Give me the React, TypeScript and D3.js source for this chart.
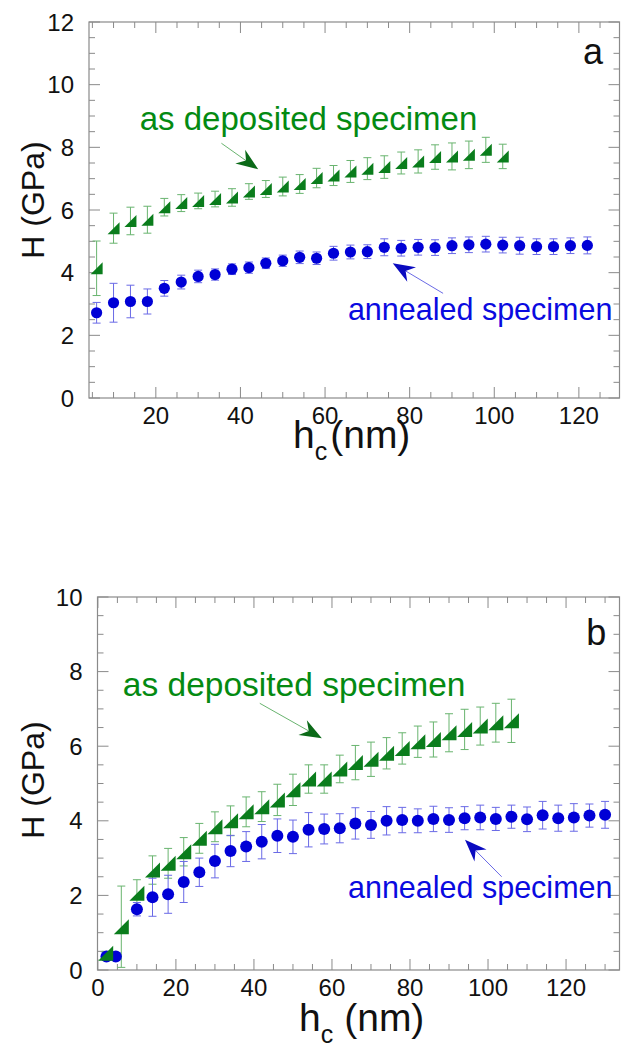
import React from "react";
import * as d3 from "d3";

// ---------- Panel a data ----------
const aAnnealedX = [6, 10, 14, 18, 22, 26, 30, 34, 38, 42, 46, 50, 54, 58, 62, 66, 70, 74, 78, 82, 86, 90, 94, 98, 102, 106, 110, 114, 118, 122];
const aAnnealedH = [2.72, 3.04, 3.08, 3.08, 3.5, 3.7, 3.88, 3.94, 4.11, 4.16, 4.3, 4.38, 4.49, 4.46, 4.62, 4.66, 4.67, 4.81, 4.78, 4.81, 4.8, 4.86, 4.89, 4.91, 4.88, 4.86, 4.83, 4.83, 4.86, 4.87];
const aAnnealedErr = [0.33, 0.62, 0.52, 0.4, 0.25, 0.22, 0.2, 0.18, 0.17, 0.18, 0.17, 0.18, 0.2, 0.2, 0.22, 0.22, 0.22, 0.27, 0.25, 0.25, 0.25, 0.25, 0.25, 0.25, 0.25, 0.27, 0.25, 0.25, 0.25, 0.27];
const aDepositedX = [6, 10, 14, 18, 22, 26, 30, 34, 38, 42, 46, 50, 54, 58, 62, 66, 70, 74, 78, 82, 86, 90, 94, 98, 102];
const aDepositedH = [4.14, 5.42, 5.65, 5.69, 6.09, 6.22, 6.29, 6.35, 6.4, 6.59, 6.67, 6.75, 6.83, 7.02, 7.1, 7.23, 7.32, 7.37, 7.5, 7.55, 7.69, 7.71, 7.76, 7.92, 7.71];
const aDepositedErr = [0.87, 0.48, 0.44, 0.43, 0.28, 0.27, 0.25, 0.25, 0.28, 0.25, 0.27, 0.3, 0.3, 0.31, 0.32, 0.35, 0.35, 0.36, 0.35, 0.37, 0.39, 0.43, 0.44, 0.4, 0.39];

// ---------- Panel b data ----------
const bAnnealedX = [2.2, 4.6, 10, 14, 18, 22, 26, 30, 34, 38, 42, 46, 50, 54, 58, 62, 66, 70, 74, 78, 82, 86, 90, 94, 98, 102, 106, 110, 114, 118, 122, 126, 130];
const bAnnealedH = [0.36, 0.36, 1.63, 1.95, 2.03, 2.36, 2.62, 2.92, 3.19, 3.31, 3.44, 3.6, 3.57, 3.76, 3.78, 3.8, 3.93, 3.89, 4.0, 4.02, 4.0, 4.05, 4.02, 4.07, 4.09, 4.05, 4.11, 4.04, 4.15, 4.07, 4.09, 4.14, 4.16];
const bAnnealedErr = [0.05, 0.05, 0.18, 0.51, 0.51, 0.55, 0.38, 0.45, 0.42, 0.4, 0.46, 0.45, 0.45, 0.46, 0.4, 0.39, 0.42, 0.36, 0.38, 0.34, 0.32, 0.34, 0.33, 0.31, 0.33, 0.31, 0.31, 0.33, 0.37, 0.35, 0.37, 0.31, 0.36];
const bDepositedX = [2, 6, 10, 14, 18, 22, 26, 30, 34, 38, 42, 46, 50, 54, 58, 62, 66, 70, 74, 78, 82, 86, 90, 94, 98, 102, 106];
const bDepositedH = [0.45, 1.16, 2.06, 2.68, 2.86, 3.17, 3.53, 3.84, 4.0, 4.24, 4.38, 4.56, 4.83, 5.12, 5.12, 5.39, 5.56, 5.65, 5.81, 5.94, 6.12, 6.18, 6.36, 6.45, 6.54, 6.63, 6.68];
const bDepositedErr = [0.05, 1.09, 0.36, 0.38, 0.4, 0.38, 0.4, 0.4, 0.4, 0.4, 0.4, 0.42, 0.42, 0.38, 0.38, 0.37, 0.46, 0.46, 0.42, 0.42, 0.42, 0.47, 0.51, 0.54, 0.51, 0.52, 0.58];

// tick labels
const aXTicks = [20, 40, 60, 80, 100, 120];
const aYTicks = [0, 2, 4, 6, 8, 10, 12];
const bXTicks = [0, 20, 40, 60, 80, 100, 120];
const bYTicks = [0, 2, 4, 6, 8, 10];

const FONT = "'Liberation Sans', Arial, Helvetica, sans-serif";
const GREEN = "#0a7d1c";
const GREEN_TEXT = "#048a12";
const GREEN_ERR = "#69b46f";
const GREEN_HEAD = "#0b6a18";
const BLUE = "#0000d6";
const BLUE_TEXT = "#0a0ae0";
const BLUE_ERR = "#6a6ae6";
const BLUE_HEAD = "#0a0ac0";
const AXIS = "#8a8a8a";

type PanelProps = {
  box: { l: number; r: number; t: number; b: number };
  xDomain: [number, number];
  yDomain: [number, number];
  xTicks: number[];
  yTicks: number[];
  annX: number[]; annH: number[]; annE: number[];
  depX: number[]; depH: number[]; depE: number[];
  circleR: number;
  triSize: number;
  letter: string;
  letterPos: [number, number];
  greenText: [number, number]; greenSize: number;
  blueText: [number, number]; blueSize: number;
  greenArrow: [number, number, number, number];
  blueArrow: [number, number, number, number];
  yLabelY: number;
  xLabel: { x: number; y: number; gap: number };
};

function Arrow({ x1, y1, x2, y2, line, head }: { x1: number; y1: number; x2: number; y2: number; line: string; head: string }) {
  const ang = Math.atan2(y2 - y1, x2 - x1);
  const L = 22, W = 8.5, N = 15;
  const ca = Math.cos(ang), sa = Math.sin(ang);
  const p = (a: number, b: number) => [x2 + a * ca - b * sa, y2 + a * sa + b * ca];
  const pts = [p(0, 0), p(-L, -W), p(-N, 0), p(-L, W)];
  const lineEnd = p(-N, 0);
  return (
    <g>
      <line x1={x1} y1={y1} x2={lineEnd[0]} y2={lineEnd[1]} stroke={line} strokeWidth={1} />
      <path d={"M" + pts.map((q) => q.join(",")).join("L") + "Z"} fill={head} />
    </g>
  );
}

function Panel(p: PanelProps) {
  const x = d3.scaleLinear().domain(p.xDomain).range([p.box.l, p.box.r]);
  const y = d3.scaleLinear().domain(p.yDomain).range([p.box.b, p.box.t]);
  const minorX = d3.range(Math.ceil(p.xDomain[0] / 5) * 5, p.xDomain[1] + 0.001, 5);
  const minorY = d3.range(p.yDomain[0], p.yDomain[1] + 0.001, 0.5);
  const { l, r, t, b } = p.box;
  const cap = 4;
  const s = p.triSize;
  const triPath = (cx: number, cy: number) =>
    `M${cx - s / 2},${cy + s / 2}L${cx + s / 2},${cy + s / 2}L${cx + s / 2},${cy - s / 2}Z`;
  return (
    <g>
      {/* ticks */}
      {minorX.map((v, i) => {
        const major = Math.abs(v % 20) < 1e-6;
        const len = major ? 11 : 6;
        return (
          <g key={"tx" + i} stroke={AXIS} strokeWidth={1}>
            <line x1={x(v)} x2={x(v)} y1={b} y2={b - len} />
            <line x1={x(v)} x2={x(v)} y1={t} y2={t + len} />
          </g>
        );
      })}
      {minorY.map((v, i) => {
        const major = Math.abs(v % 2) < 1e-6;
        const len = major ? 11 : 6;
        return (
          <g key={"ty" + i} stroke={AXIS} strokeWidth={1}>
            <line x1={l} x2={l + len} y1={y(v)} y2={y(v)} />
            <line x1={r} x2={r - len} y1={y(v)} y2={y(v)} />
          </g>
        );
      })}
      <rect x={l} y={t} width={r - l} height={b - t} fill="none" stroke={AXIS} strokeWidth={1.2} />
      {/* tick labels */}
      {p.xTicks.map((v) => (
        <text key={"xl" + v} x={x(v)} y={b + 26} textAnchor="middle" fontSize={24} fontFamily={FONT} fill="#111">
          {v}
        </text>
      ))}
      {p.yTicks.map((v) => (
        <text key={"yl" + v} x={l - 15} y={y(v) + 8.5} textAnchor="end" fontSize={24} fontFamily={FONT} fill="#111">
          {v}
        </text>
      ))}
      {/* error bars */}
      {p.depX.map((v, i) => (
        <g key={"de" + i} stroke={GREEN_ERR} strokeWidth={1}>
          <line x1={x(v)} x2={x(v)} y1={y(p.depH[i] - p.depE[i])} y2={y(p.depH[i] + p.depE[i])} />
          <line x1={x(v) - cap} x2={x(v) + cap} y1={y(p.depH[i] - p.depE[i])} y2={y(p.depH[i] - p.depE[i])} />
          <line x1={x(v) - cap} x2={x(v) + cap} y1={y(p.depH[i] + p.depE[i])} y2={y(p.depH[i] + p.depE[i])} />
        </g>
      ))}
      {p.annX.map((v, i) => (
        <g key={"ae" + i} stroke={BLUE_ERR} strokeWidth={1}>
          <line x1={x(v)} x2={x(v)} y1={y(p.annH[i] - p.annE[i])} y2={y(p.annH[i] + p.annE[i])} />
          <line x1={x(v) - cap} x2={x(v) + cap} y1={y(p.annH[i] - p.annE[i])} y2={y(p.annH[i] - p.annE[i])} />
          <line x1={x(v) - cap} x2={x(v) + cap} y1={y(p.annH[i] + p.annE[i])} y2={y(p.annH[i] + p.annE[i])} />
        </g>
      ))}
      {/* markers */}
      {p.annX.map((v, i) => (
        <circle key={"ac" + i} cx={x(v)} cy={y(p.annH[i])} r={p.circleR} fill={BLUE} />
      ))}
      {p.depX.map((v, i) => (
        <path key={"dt" + i} d={triPath(x(v), y(p.depH[i]))} fill={GREEN} />
      ))}
      {/* annotations */}
      <text x={x(p.greenText[0])} y={y(p.greenText[1])} fontSize={p.greenSize} fontFamily={FONT} fill={GREEN_TEXT}>
        as deposited specimen
      </text>
      <text x={x(p.blueText[0])} y={y(p.blueText[1])} fontSize={p.blueSize} fontFamily={FONT} fill={BLUE_TEXT}>
        annealed specimen
      </text>
      <Arrow x1={x(p.greenArrow[0])} y1={y(p.greenArrow[1])} x2={x(p.greenArrow[2])} y2={y(p.greenArrow[3])} line={GREEN_ERR} head={GREEN_HEAD} />
      <Arrow x1={x(p.blueArrow[0])} y1={y(p.blueArrow[1])} x2={x(p.blueArrow[2])} y2={y(p.blueArrow[3])} line={BLUE_ERR} head={BLUE_HEAD} />
      <text x={x(p.letterPos[0])} y={y(p.letterPos[1])} fontSize={36} fontFamily={FONT} fill="#111">
        {p.letter}
      </text>
      {/* axis titles */}
      <text transform={`translate(44,${p.yLabelY}) rotate(-90)`} textAnchor="middle" fontSize={32} fontFamily={FONT} fill="#111">
        H (GPa)
      </text>
      <text x={p.xLabel.x} y={p.xLabel.y} fontSize={39} fontFamily={FONT} fill="#111">
        h
        <tspan fontSize={25} dy={12}>c</tspan>
        <tspan dy={-12} dx={p.xLabel.gap}>(nm)</tspan>
      </text>
    </g>
  );
}

export default function App() {
  return (
    <svg width={621} height={1052} style={{ position: "absolute", left: 0, top: 0, background: "#fff" }}>
      <rect width={621} height={1052} fill="#fff" />
      <Panel
        box={{ l: 89, r: 619.5, t: 22, b: 398 }}
        xDomain={[4.2, 129.6]}
        yDomain={[0, 12]}
        xTicks={aXTicks}
        yTicks={aYTicks}
        annX={aAnnealedX} annH={aAnnealedH} annE={aAnnealedErr}
        depX={aDepositedX} depH={aDepositedH} depE={aDepositedErr}
        circleR={5.6}
        triSize={12}
        letter="a"
        letterPos={[121, 10.66]}
        greenText={[16.2, 8.55]} greenSize={33}
        blueText={[65.4, 2.49]} blueSize={30.5}
        greenArrow={[35.5, 8.13, 44.2, 7.3]}
        blueArrow={[87.9, 3.34, 76.0, 4.3]}
        yLabelY={200}
        xLabel={{ x: 293, y: 448, gap: 3 }}
      />
      <Panel
        box={{ l: 97.5, r: 619.5, t: 597, b: 970 }}
        xDomain={[-0.1, 133.7]}
        yDomain={[0, 10]}
        xTicks={bXTicks}
        yTicks={bYTicks}
        annX={bAnnealedX} annH={bAnnealedH} annE={bAnnealedErr}
        depX={bDepositedX} depH={bDepositedH} depE={bDepositedErr}
        circleR={6}
        triSize={15}
        letter="b"
        letterPos={[125.2, 8.71]}
        greenText={[6.4, 7.35]} greenSize={33.5}
        blueText={[64.1, 1.93]} blueSize={30.5}
        greenArrow={[41.5, 7.15, 57.4, 6.21]}
        blueArrow={[103.5, 2.5, 94.1, 3.49]}
        yLabelY={780}
        xLabel={{ x: 299, y: 1031, gap: 11 }}
      />
    </svg>
  );
}
